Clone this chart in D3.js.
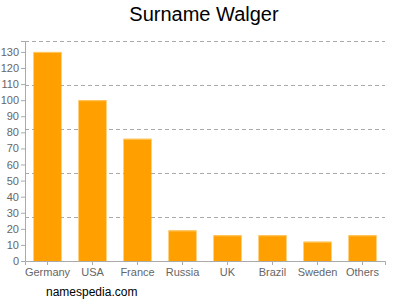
<!DOCTYPE html>
<html>
<head>
<meta charset="utf-8">
<script src="https://cdn.jsdelivr.net/npm/d3@7"></script>
<style>
  body { margin: 0; background: #fff; }
  text { font-family: "Liberation Sans", Arial, sans-serif; }
</style>
</head>
<body>
<div id="chart"></div>
<script>
var countries = ["Germany", "USA", "France", "Russia", "UK", "Brazil", "Sweden", "Others"];
var counts = [130, 100, 76, 19, 16, 16, 12, 16];
var yTicks = [0, 10, 20, 30, 40, 50, 60, 70, 80, 90, 100, 110, 120, 130];

var svgWidth = 400;
var svgHeight = 300;

var margin = { top: 41, right: 15, bottom: 39, left: 25 };
var width = svgWidth - margin.left - margin.right;
var height = svgHeight - margin.top - margin.bottom;

var svg = d3.select("#chart")
  .append("svg")
  .attr("width", svgWidth)
  .attr("height", svgHeight);

var chartGroup = svg.append("g")
  .attr("transform", `translate(${margin.left}, ${margin.top})`);

var xScale = d3.scaleBand()
  .domain(countries)
  .range([0, width])
  .paddingInner(0.378)
  .paddingOuter(0.189);

var yMax = 136.8;
var yScale = d3.scaleLinear()
  .domain([0, yMax])
  .range([height, 0]);

// dashed grid, five equal parts of the plot height
var gridVals = d3.range(1, 6).map(i => yMax * i / 5);
chartGroup.selectAll(".grid")
  .data(gridVals)
  .enter()
  .append("line")
  .attr("x1", 0)
  .attr("x2", width)
  .attr("y1", d => Math.round(yScale(d)) + 0.5)
  .attr("y2", d => Math.round(yScale(d)) + 0.5)
  .attr("stroke", "#aaa")
  .attr("stroke-dasharray", "4,3");

chartGroup.selectAll(".bar")
  .data(counts)
  .enter()
  .append("rect")
  .attr("x", (d, i) => xScale(countries[i]))
  .attr("y", d => yScale(d))
  .attr("width", xScale.bandwidth())
  .attr("height", d => height - yScale(d))
  .attr("fill", "#ffa000");

chartGroup.selectAll(".bartop")
  .data(counts)
  .enter()
  .append("rect")
  .attr("x", (d, i) => xScale(countries[i]))
  .attr("y", d => yScale(d))
  .attr("width", xScale.bandwidth())
  .attr("height", 1)
  .attr("fill", "#ffc860");

var leftAxis = d3.axisLeft(yScale).tickValues(yTicks).tickSize(4).tickPadding(2);
var bottomAxis = d3.axisBottom(xScale).tickSize(4).tickPadding(3);

var yAxis = chartGroup.append("g").call(leftAxis);
var xAxis = chartGroup.append("g")
  .attr("transform", `translate(0, ${height})`)
  .call(bottomAxis);

[yAxis, xAxis].forEach(function(ax) {
  ax.select(".domain").attr("stroke", "#aaa");
  ax.selectAll(".tick line").attr("stroke", "#aaa");
  ax.selectAll(".tick text")
    .attr("fill", "#666")
    .attr("font-size", "11px")
    .attr("font-family", "Liberation Sans, Arial, sans-serif");
});

svg.append("text")
  .attr("x", 204)
  .attr("y", 21)
  .attr("text-anchor", "middle")
  .attr("font-size", "20px")
  .attr("fill", "#000")
  .text("Surname Walger");

svg.append("text")
  .attr("x", 46)
  .attr("y", 296)
  .attr("font-size", "12px")
  .attr("fill", "#000")
  .text("namespedia.com");
</script>
</body>
</html>
